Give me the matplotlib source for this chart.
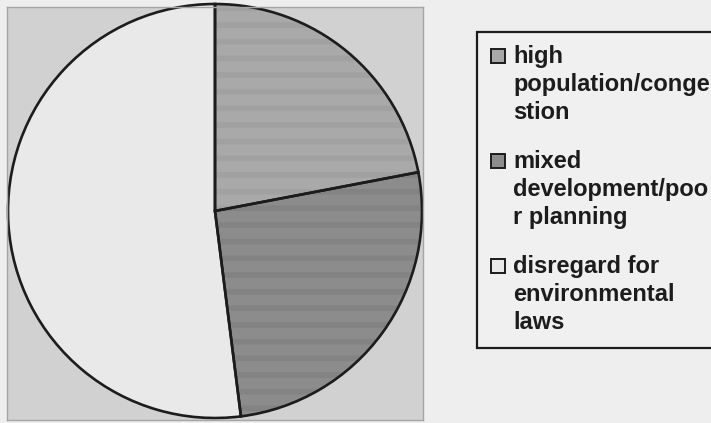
import matplotlib
matplotlib.use('Agg')
import matplotlib.pyplot as plt
from matplotlib.patches import Rectangle

# data (percent of responses)
labels = ['high population/congestion',
          'mixed development/poor planning',
          'disregard for environmental laws']
label_lines = [['high', 'population/conge', 'stion'],
               ['mixed', 'development/poo', 'r planning'],
               ['disregard for', 'environmental', 'laws']]
values = [22, 26, 52]

colors = ['#a9a9a9', '#8c8c8c', '#e9e9e9']
stripe_colors = ['#a1a1a1', '#838383', None]

W, H = 711, 423
plt.rcParams['font.family'] = ['Liberation Sans', 'DejaVu Sans']
plt.rcParams['hatch.linewidth'] = 4

fig = plt.figure(figsize=(W / 100, H / 100), dpi=100, facecolor='#eeeeee')

def fx(x):
    return x / W

def fy(y):
    return 1 - y / H

# plot area (gray box) in pixels
left, top, right, bottom = 7, 7, 423, 420
ax = fig.add_axes([fx(left), fy(bottom), (right - left) / W, (bottom - top) / H])

wedges, _ = ax.pie(values, colors=colors, startangle=90, counterclock=False,
                   wedgeprops=dict(linewidth=0))
for w, sc in zip(wedges, stripe_colors):
    if sc:
        w.set_hatch('-')
        w.set_edgecolor(sc)

# outlines on top
ax.pie(values, startangle=90, counterclock=False,
       wedgeprops=dict(facecolor='none', edgecolor='#1c1c1c', linewidth=1.9))

# map pie so center sits at (215, 211) px with radius 207 px
cx, cy, r = 215, 211, 207
ax.set_aspect('auto')
ax.set_xlim((left - cx) / r, (right - cx) / r)
ax.set_ylim((cy - bottom) / r, (cy - top) / r)
ax.set_frame_on(True)
ax.set_facecolor('#d1d1d1')
for s in ax.spines.values():
    s.set_color('#a5a5a5')
    s.set_linewidth(1)
ax.set_xticks([])
ax.set_yticks([])

# legend drawn by hand (Excel-style wrapped labels)
box = Rectangle((fx(477), fy(348)), (730 - 477) / W, (348 - 32) / H,
                transform=fig.transFigure, facecolor='#f0f0f0',
                edgecolor='#1c1c1c', linewidth=1.6, zorder=1)
fig.add_artist(box)

first_base = [63, 168, 273]
line_gap = 28
for i, lines in enumerate(label_lines):
    b = first_base[i]
    sq = Rectangle((fx(491), fy(b)), 14 / W, 14 / H, transform=fig.transFigure,
                   facecolor=colors[i], edgecolor='#1c1c1c', linewidth=1.4, zorder=2)
    fig.add_artist(sq)
    for j, txt in enumerate(lines):
        fig.text(fx(513), fy(b + j * line_gap), txt, fontsize=17,
                 fontweight='bold', color='#1c1c1c', va='baseline', ha='left', zorder=3)

fig.savefig('out.png', dpi=100, facecolor=fig.get_facecolor())
